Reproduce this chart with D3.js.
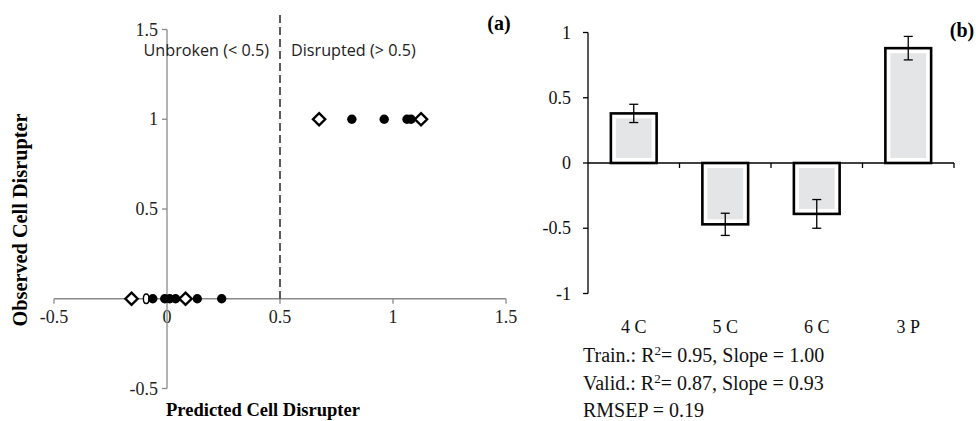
<!DOCTYPE html>
<html>
<head>
<meta charset="utf-8">
<script src="https://cdn.jsdelivr.net/npm/d3@7"></script>
<style>
  body { margin: 0; background: #fff; }
  svg { display: block; }
  .serif { font-family: "Liberation Serif", "Times New Roman", serif; }
</style>
</head>
<body>
<div id="container"></div>
<script>
// panel (a) data: predicted vs observed
const trainPred = [-0.063, -0.01, 0.012, 0.038, 0.134, 0.242, 0.818, 0.961, 1.062, 1.08];
const trainObs  = [0, 0, 0, 0, 0, 0, 1, 1, 1, 1];
const validPred = [-0.157, 0.082, 0.673, 1.124];
const validObs  = [0, 0, 1, 1];
const ovalPred = [-0.092];
const ovalObs  = [0];
const ticksA = [-0.5, 0, 0.5, 1, 1.5];

// panel (b) data
const categories = ['4 C', '5 C', '6 C', '3 P'];
const barValues = [0.38, -0.47, -0.39, 0.88];
const barErrors = [0.07, 0.085, 0.11, 0.09];
const ticksB = [1, 0.5, 0, -0.5, -1];

const width = 976, height = 421;
const svg = d3.select('#container').append('svg')
  .attr('width', width)
  .attr('height', height);

// ---------- panel (a)
const x = d3.scaleLinear().domain([-0.5, 1.5]).range([54, 506]);
const y = d3.scaleLinear().domain([-0.5, 1.5]).range([388.5, 29.5]);
const axisCol = '#8a8a8a';

const gA = svg.append('g');

// x axis through y = 0
gA.append('line')
  .attr('x1', x(-0.5)).attr('x2', x(1.5))
  .attr('y1', y(0)).attr('y2', y(0))
  .attr('stroke', axisCol).attr('stroke-width', 1.3);
gA.selectAll('.xt').data(ticksA).enter().append('line')
  .attr('x1', d => x(d)).attr('x2', d => x(d))
  .attr('y1', y(0)).attr('y2', y(0) + 5)
  .attr('stroke', axisCol).attr('stroke-width', 1.3);
gA.selectAll('.xl').data(ticksA).enter().append('text')
  .attr('class', 'serif')
  .attr('x', d => x(d)).attr('y', y(0) + 24)
  .attr('text-anchor', 'middle')
  .attr('font-size', 18).attr('fill', '#222')
  .text(d => d);

// y axis through x = 0
gA.append('line')
  .attr('x1', x(0)).attr('x2', x(0))
  .attr('y1', y(1.5)).attr('y2', y(-0.5))
  .attr('stroke', axisCol).attr('stroke-width', 1.3);
const yTicksA = ticksA.filter(d => d !== 0);
gA.selectAll('.yt').data(ticksA).enter().append('line')
  .attr('x1', x(0) - 5).attr('x2', x(0))
  .attr('y1', d => y(d)).attr('y2', d => y(d))
  .attr('stroke', axisCol).attr('stroke-width', 1.3);
gA.selectAll('.yl').data(yTicksA).enter().append('text')
  .attr('class', 'serif')
  .attr('x', x(0) - 9).attr('y', d => y(d) + 6)
  .attr('text-anchor', 'end')
  .attr('font-size', 18).attr('fill', '#222')
  .text(d => d);

// threshold
gA.append('line')
  .attr('x1', x(0.5)).attr('x2', x(0.5))
  .attr('y1', 15).attr('y2', y(0))
  .attr('stroke', '#333').attr('stroke-width', 1.6)
  .attr('stroke-dasharray', '8,4');

gA.append('text')
  .attr('x', x(0.5) - 11).attr('y', 56)
  .attr('text-anchor', 'end')
  .attr('font-family', 'Open Sans, sans-serif')
  .attr('font-size', 16.2).attr('fill', '#222')
  .text('Unbroken (< 0.5)');
gA.append('text')
  .attr('x', x(0.5) + 11).attr('y', 56)
  .attr('font-family', 'Open Sans, sans-serif')
  .attr('font-size', 16.2).attr('fill', '#222')
  .text('Disrupted (> 0.5)');

// markers
gA.selectAll('.oval').data(ovalPred).enter().append('ellipse')
  .attr('cx', d => x(d)).attr('cy', (d, i) => y(ovalObs[i]))
  .attr('rx', 2.8).attr('ry', 4.8)
  .attr('fill', '#fff').attr('stroke', '#000').attr('stroke-width', 1.4);
gA.selectAll('.dot').data(trainPred).enter().append('circle')
  .attr('cx', d => x(d)).attr('cy', (d, i) => y(trainObs[i]))
  .attr('r', 4.7).attr('fill', '#000');
const diamond = d3.symbol().type(d3.symbolDiamond2).size(95);
gA.selectAll('.dia').data(validPred).enter().append('path')
  .attr('d', diamond)
  .attr('transform', (d, i) => `translate(${x(d)},${y(validObs[i])})`)
  .attr('fill', '#fff').attr('stroke', '#000').attr('stroke-width', 2.4);

gA.append('text').attr('class', 'serif')
  .attr('x', 499).attr('y', 30)
  .attr('text-anchor', 'middle')
  .attr('font-size', 20).attr('font-weight', 'bold')
  .text('(a)');
gA.append('text').attr('class', 'serif')
  .attr('transform', 'translate(27,220) rotate(-90)')
  .attr('text-anchor', 'middle')
  .attr('font-size', 20.3).attr('font-weight', 'bold')
  .text('Observed Cell Disrupter');
gA.append('text').attr('class', 'serif')
  .attr('x', 263).attr('y', 416)
  .attr('text-anchor', 'middle')
  .attr('font-size', 18.5).attr('font-weight', 'bold')
  .text('Predicted Cell Disrupter');

// ---------- panel (b)
const xb = d3.scaleBand().domain(categories).range([588, 954])
  .paddingInner(0.5).paddingOuter(0.25);
const yb = d3.scaleLinear().domain([-1, 1]).range([293.5, 32.5]);

const gB = svg.append('g');

gB.append('line')
  .attr('x1', 588).attr('x2', 588)
  .attr('y1', yb(1)).attr('y2', yb(-1))
  .attr('stroke', '#000').attr('stroke-width', 1.3);
gB.selectAll('.yt').data(ticksB).enter().append('line')
  .attr('x1', 583).attr('x2', 588)
  .attr('y1', d => yb(d)).attr('y2', d => yb(d))
  .attr('stroke', '#000').attr('stroke-width', 1.3);
gB.selectAll('.yl').data(ticksB).enter().append('text')
  .attr('class', 'serif')
  .attr('x', 571).attr('y', d => yb(d) + 6)
  .attr('text-anchor', 'end')
  .attr('font-size', 18).attr('fill', '#111')
  .text(d => d);

// bars
const bar = gB.selectAll('.bar').data(barValues).enter().append('g');
bar.append('rect')
  .attr('x', (d, i) => xb(categories[i]))
  .attr('y', d => yb(Math.max(0, d)))
  .attr('width', xb.bandwidth())
  .attr('height', d => Math.abs(yb(d) - yb(0)))
  .attr('fill', '#fff').attr('stroke', '#000').attr('stroke-width', 2.6);
bar.append('rect')
  .attr('x', (d, i) => xb(categories[i]) + 5)
  .attr('y', d => yb(Math.max(0, d)) + 5)
  .attr('width', xb.bandwidth() - 10)
  .attr('height', d => Math.abs(yb(d) - yb(0)) - 10)
  .attr('fill', '#e4e5e7');

// x axis at zero
gB.append('line')
  .attr('x1', 588).attr('x2', 954)
  .attr('y1', yb(0)).attr('y2', yb(0))
  .attr('stroke', '#000').attr('stroke-width', 1.3);
const bounds = categories.map(c => xb(c) + xb.bandwidth() + xb.step() * 0.25);
gB.selectAll('.xt').data(bounds).enter().append('line')
  .attr('x1', d => d).attr('x2', d => d)
  .attr('y1', yb(0)).attr('y2', yb(0) + 5)
  .attr('stroke', '#000').attr('stroke-width', 1.3);
gB.selectAll('.xl').data(categories).enter().append('text')
  .attr('class', 'serif')
  .attr('x', d => xb(d) + xb.bandwidth() / 2).attr('y', 333)
  .attr('text-anchor', 'middle')
  .attr('font-size', 18).attr('fill', '#111')
  .text(d => d);

// error bars
const err = gB.selectAll('.err').data(barValues).enter().append('g')
  .attr('stroke', '#000').attr('stroke-width', 1.3);
const cx = i => xb(categories[i]) + xb.bandwidth() / 2;
err.append('line')
  .attr('x1', (d, i) => cx(i)).attr('x2', (d, i) => cx(i))
  .attr('y1', (d, i) => yb(d + barErrors[i])).attr('y2', (d, i) => yb(d - barErrors[i]));
err.append('line')
  .attr('x1', (d, i) => cx(i) - 4.5).attr('x2', (d, i) => cx(i) + 4.5)
  .attr('y1', (d, i) => yb(d + barErrors[i])).attr('y2', (d, i) => yb(d + barErrors[i]));
err.append('line')
  .attr('x1', (d, i) => cx(i) - 4.5).attr('x2', (d, i) => cx(i) + 4.5)
  .attr('y1', (d, i) => yb(d - barErrors[i])).attr('y2', (d, i) => yb(d - barErrors[i]));

gB.append('text').attr('class', 'serif')
  .attr('x', 962).attr('y', 37)
  .attr('text-anchor', 'middle')
  .attr('font-size', 20).attr('font-weight', 'bold')
  .text('(b)');

// statistics
const stats = [
  ['Train.: R', '= 0.95, Slope = 1.00'],
  ['Valid.: R', '= 0.87, Slope = 0.93'],
  ['RMSEP = 0.19', null]
];
stats.forEach((s, i) => {
  const t = gB.append('text').attr('class', 'serif')
    .attr('x', 583).attr('y', 362 + i * 27.5)
    .attr('font-size', 20).attr('fill', '#111');
  t.append('tspan').text(s[0]);
  if (s[1]) {
    t.append('tspan').attr('dy', -7).attr('font-size', 13).text('2');
    t.append('tspan').attr('dy', 7).text(s[1]);
  }
});
</script>
</body>
</html>
